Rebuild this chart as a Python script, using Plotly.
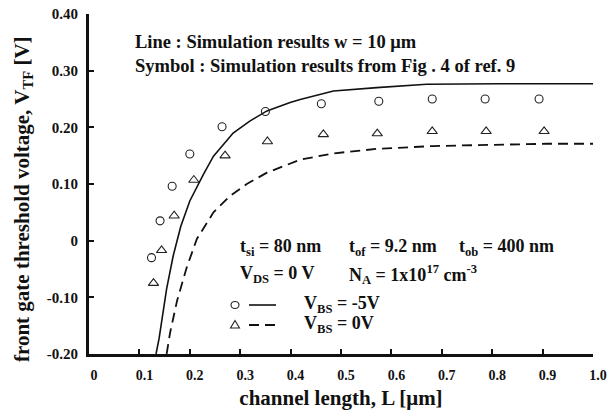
import plotly.graph_objects as go

# Simulated threshold voltage curves (lines)
L_sim_m5 = [0.133, 0.139, 0.154, 0.167, 0.182, 0.200, 0.227, 0.247, 0.286, 0.319,
            0.353, 0.399, 0.419, 0.485, 0.571, 0.670, 0.815, 1.000]
V_sim_m5 = [-0.200, -0.173, -0.085, -0.027, 0.025, 0.070, 0.117, 0.149, 0.190, 0.211,
            0.229, 0.244, 0.249, 0.264, 0.270, 0.276, 0.277, 0.277]

L_sim_0 = [0.154, 0.161, 0.175, 0.194, 0.214, 0.247, 0.280, 0.313, 0.353, 0.399,
           0.419, 0.485, 0.571, 0.683, 0.815, 0.908, 1.000]
V_sim_0 = [-0.200, -0.162, -0.105, -0.047, 0.003, 0.050, 0.079, 0.100, 0.120, 0.137,
           0.143, 0.154, 0.162, 0.167, 0.169, 0.171, 0.171]

# Reference results (symbols)
L_ref_m5 = [0.124, 0.141, 0.165, 0.200, 0.264, 0.350, 0.461, 0.575, 0.681, 0.786, 0.893]
V_ref_m5 = [-0.030, 0.035, 0.096, 0.153, 0.201, 0.228, 0.2415, 0.246, 0.250, 0.250, 0.250]

L_ref_0 = [0.128, 0.144, 0.169, 0.208, 0.270, 0.354, 0.465, 0.572, 0.681, 0.788, 0.903]
V_ref_0 = [-0.075, -0.017, 0.044, 0.107, 0.150, 0.175, 0.1875, 0.189, 0.193, 0.193, 0.193]

x_ticks = [0, 0.1, 0.2, 0.3, 0.4, 0.5, 0.6, 0.7, 0.8, 0.9, 1.0]
x_tick_text = ["0", "0.1", "0.2", "0.3", "0.4", "0.5", "0.6", "0.7", "0.8", "0.9", "1.0"]
y_ticks = [0.40, 0.30, 0.20, 0.10, 0, -0.10, -0.20]
y_tick_text = ["0.40", "0.30", "0.20", "0.10", "0", "-0.10", "-0.20"]

SERIF = "Liberation Serif"
INK = "#111111"

fig = go.Figure()
fig.add_trace(go.Scatter(x=L_sim_m5, y=V_sim_m5, mode="lines",
                         line=dict(color=INK, width=1.6), showlegend=False))
fig.add_trace(go.Scatter(x=L_sim_0, y=V_sim_0, mode="lines",
                         line=dict(color=INK, width=1.8, dash="10px,6px"), showlegend=False))
fig.add_trace(go.Scatter(x=L_ref_m5, y=V_ref_m5, mode="markers",
                         marker=dict(symbol="circle-open", size=8, color="#222222",
                                     line=dict(width=1.1)), showlegend=False))
fig.add_trace(go.Scatter(x=L_ref_0, y=V_ref_0, mode="markers",
                         marker=dict(symbol="triangle-up-open", size=9, color="#222222",
                                     line=dict(width=1.1)), showlegend=False))

axis_common = dict(ticks="inside", ticklen=5, tickwidth=1.5, tickcolor=INK,
                   showgrid=False, zeroline=False, showline=True, linecolor=INK,
                   automargin=False)

fig.update_layout(
    width=610, height=410,
    margin=dict(l=89, r=17, t=14, b=56),
    paper_bgcolor="white", plot_bgcolor="white",
    font=dict(family=SERIF, color=INK),
    xaxis=dict(range=[0, 1], tickvals=x_ticks, ticktext=x_tick_text,
               linewidth=3, ticklabelshift=5, ticklabelstandoff=6,
               tickfont=dict(family=SERIF, size=14, weight="bold"),
               title=dict(text="<b>channel length, L [μm]</b>",
                          font=dict(family=SERIF, size=21), standoff=16),
               **axis_common),
    yaxis=dict(range=[-0.20, 0.40], tickvals=y_ticks, ticktext=y_tick_text,
               linewidth=3, ticklabelstandoff=5,
               tickfont=dict(family=SERIF, size=15, weight="bold"),
               **axis_common),
    xaxis2=dict(range=[0, 1], overlaying="x", side="top", tickvals=x_ticks,
                showticklabels=False, linewidth=2, **axis_common),
    yaxis2=dict(range=[-0.20, 0.40], overlaying="y", side="right", tickvals=y_ticks,
                showticklabels=False, linewidth=2, **axis_common),
)

# plot-area pixel helpers (area spans 504 x 340 px)
def px(xp):
    return (xp - 89) / 504

def py(yp):
    return (354 - yp) / 340

def note(text, x, y, size=18):
    fig.add_annotation(text="<b>" + text + "</b>", xref="paper", yref="paper",
                       x=x, y=y, xanchor="left", yanchor="middle", showarrow=False,
                       font=dict(family=SERIF, size=size, color=INK))

# y-axis title
fig.add_annotation(text="<b>front gate threshold voltage, V<sub>TF</sub> [V]</b>",
                   xref="paper", yref="paper", x=px(23), y=py(199), textangle=-90,
                   xanchor="center", yanchor="middle", showarrow=False,
                   font=dict(family=SERIF, size=21, color=INK))

note("Line : Simulation results w = 10 μm", px(133), py(42), 18.5)
note("Symbol : Simulation results from Fig . 4 of ref. 9", px(133), py(66), 18.5)
note("t<sub>si</sub> = 80 nm", px(238), py(247))
note("t<sub>of</sub> = 9.2 nm", px(347), py(247))
note("t<sub>ob</sub> = 400 nm", px(457), py(247))
note("V<sub>DS</sub> = 0 V", px(238), py(274))
note("N<sub>A</sub> = 1x10<sup>17</sup> cm<sup>-3</sup>", px(347), py(274))
note("V<sub>BS</sub> = -5V", px(302), py(304))
note("V<sub>BS</sub> = 0V", px(302), py(324))

# legend samples
fig.add_shape(type="circle", xref="paper", yref="paper", xsizemode="pixel", ysizemode="pixel",
              xanchor=px(235), yanchor=py(305), x0=-4, x1=4, y0=-3.5, y1=3.5,
              line=dict(color="#222222", width=1.1))
fig.add_shape(type="path", xref="paper", yref="paper", xsizemode="pixel", ysizemode="pixel",
              xanchor=px(235), yanchor=py(325), path="M -4.5,-3 L 4.5,-3 L 0,4.5 Z",
              line=dict(color="#222222", width=1.1))
fig.add_shape(type="line", xref="paper", yref="paper", x0=px(249), x1=px(276),
              y0=py(305), y1=py(305), line=dict(color=INK, width=1.6))
fig.add_shape(type="line", xref="paper", yref="paper", x0=px(249), x1=px(276),
              y0=py(325), y1=py(325), line=dict(color=INK, width=1.8, dash="10px,6px"))

fig.write_html("out.html")
